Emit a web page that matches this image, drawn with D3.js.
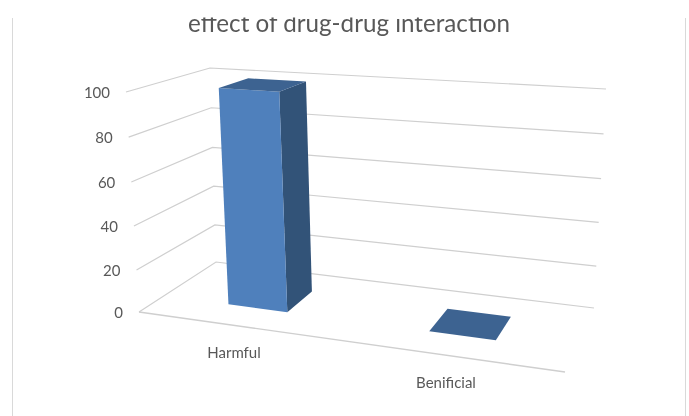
<!DOCTYPE html>
<html><head><meta charset="utf-8">
<script src="https://cdn.jsdelivr.net/npm/d3@7/dist/d3.min.js"></script>
<style>html,body{margin:0;padding:0;background:#fff}svg{display:block}text{font-family:Lato,"Open Sans",sans-serif;fill:#595959}</style>
</head><body><svg id="c" width="689" height="416"></svg>
<script>
const categories = ["Harmful", "Benificial"];
const values = [100, 0];
const tickValues = [0, 20, 40, 60, 80, 100];
const titleText = "effect of drug-drug interaction";

// Projection anchors for the 3D box (pixels)
const cornerFL = [[139,312],[126,92]];
const cornerBL = [[216,262],[210,68]];
const cornerBR = [[594,308],[606,89]];
const cornerFR = [[565,372],[580,122]];

// slight perspective along the vertical axis
const vFractions = [0, 0.191, 0.391, 0.591, 0.795, 1];
const vScale = d3.scaleLinear().domain(tickValues).range(vFractions);
const uScale = d3.scaleBand().domain(categories).range([0,1]).paddingInner(0.694).paddingOuter(0.347);
const depthRange = [0.30, 0.685];

const lerp2 = (c,t)=>[c[0][0]+(c[1][0]-c[0][0])*t, c[0][1]+(c[1][1]-c[0][1])*t];
// unit-square to quad homography
function project(u,d,v){
  const t=vScale(v);
  const p0=lerp2(cornerFL,t),p1=lerp2(cornerFR,t),p2=lerp2(cornerBR,t),p3=lerp2(cornerBL,t);
  const dx1=p1[0]-p2[0],dx2=p3[0]-p2[0],sx=p0[0]-p1[0]+p2[0]-p3[0];
  const dy1=p1[1]-p2[1],dy2=p3[1]-p2[1],sy=p0[1]-p1[1]+p2[1]-p3[1];
  const den=dx1*dy2-dx2*dy1;
  const g=(sx*dy2-dx2*sy)/den,h=(dx1*sy-sx*dy1)/den;
  const a=p1[0]-p0[0]+g*p1[0],b=p3[0]-p0[0]+h*p3[0],c=p0[0];
  const e=p1[1]-p0[1]+g*p1[1],f=p3[1]-p0[1]+h*p3[1],k=p0[1];
  const w=g*u+h*d+1;
  return [(a*u+b*d+c)/w,(e*u+f*d+k)/w];
}

const svg=d3.select("#c");
const defs=svg.append("defs");
defs.append("clipPath").attr("id","tc").append("rect").attr("x",0).attr("y",17.5).attr("width",689).attr("height",400);
defs.append("filter").attr("id","soft").append("feGaussianBlur").attr("stdDeviation",0.35);

const root=svg.append("g").attr("filter","url(#soft)");
root.append("g").selectAll("line").data([12.5,685.5]).join("line")
  .attr("x1",d=>d).attr("x2",d=>d).attr("y1",18).attr("y2",416)
  .attr("stroke","#d9d9d9").attr("stroke-width",1);

root.append("text").attr("clip-path","url(#tc)").attr("x",349).attr("y",32)
  .attr("text-anchor","middle").style("font-size","24.2px").style("fill","#595959").text(titleText);

const line=d3.line();
const grid=root.append("g");
grid.selectAll("path").data(tickValues).join("path")
  .attr("fill","none").attr("stroke","#cfcfcf").attr("stroke-width",1.2)
  .attr("d",v=>line([project(0,0,v),project(0,1,v),project(1,1,v)]));
grid.append("path").attr("fill","none").attr("stroke","#cfcfcf").attr("stroke-width",1.4)
  .attr("d",line([project(0,0,0),project(1,0,0)]));

root.append("g").selectAll("text").data(tickValues).join("text")
  .attr("x",v=>project(0,0,v)[0]-16).attr("y",v=>project(0,0,v)[1]+6)
  .attr("text-anchor","end").style("font-size","15px").text(v=>v);

const bars=root.append("g").selectAll("g").data(categories).join("g");
bars.each(function(cat,i){
  const g=d3.select(this),v=values[i];
  const u0=uScale(cat),u1=u0+uScale.bandwidth(),[d0,d1]=depthRange;
  const face=(pts,fill)=>g.append("path").attr("fill",fill).attr("d",line(pts)+"Z");
  face([project(u1,d0,0),project(u1,d1,0),project(u1,d1,v),project(u1,d0,v)],"#325278");
  face([project(u0,d0,0),project(u1,d0,0),project(u1,d0,v),project(u0,d0,v)],"#4f80bc");
  face([project(u0,d0,v),project(u1,d0,v),project(u1,d1,v),project(u0,d1,v)],"#3d6391");
});

const catLabelPos=[[234,358],[446,388]];
root.append("g").selectAll("text").data(categories).join("text")
  .attr("x",(d,i)=>catLabelPos[i][0]).attr("y",(d,i)=>catLabelPos[i][1])
  .attr("text-anchor","middle").style("font-size","15px").text(d=>d);
</script></body></html>
